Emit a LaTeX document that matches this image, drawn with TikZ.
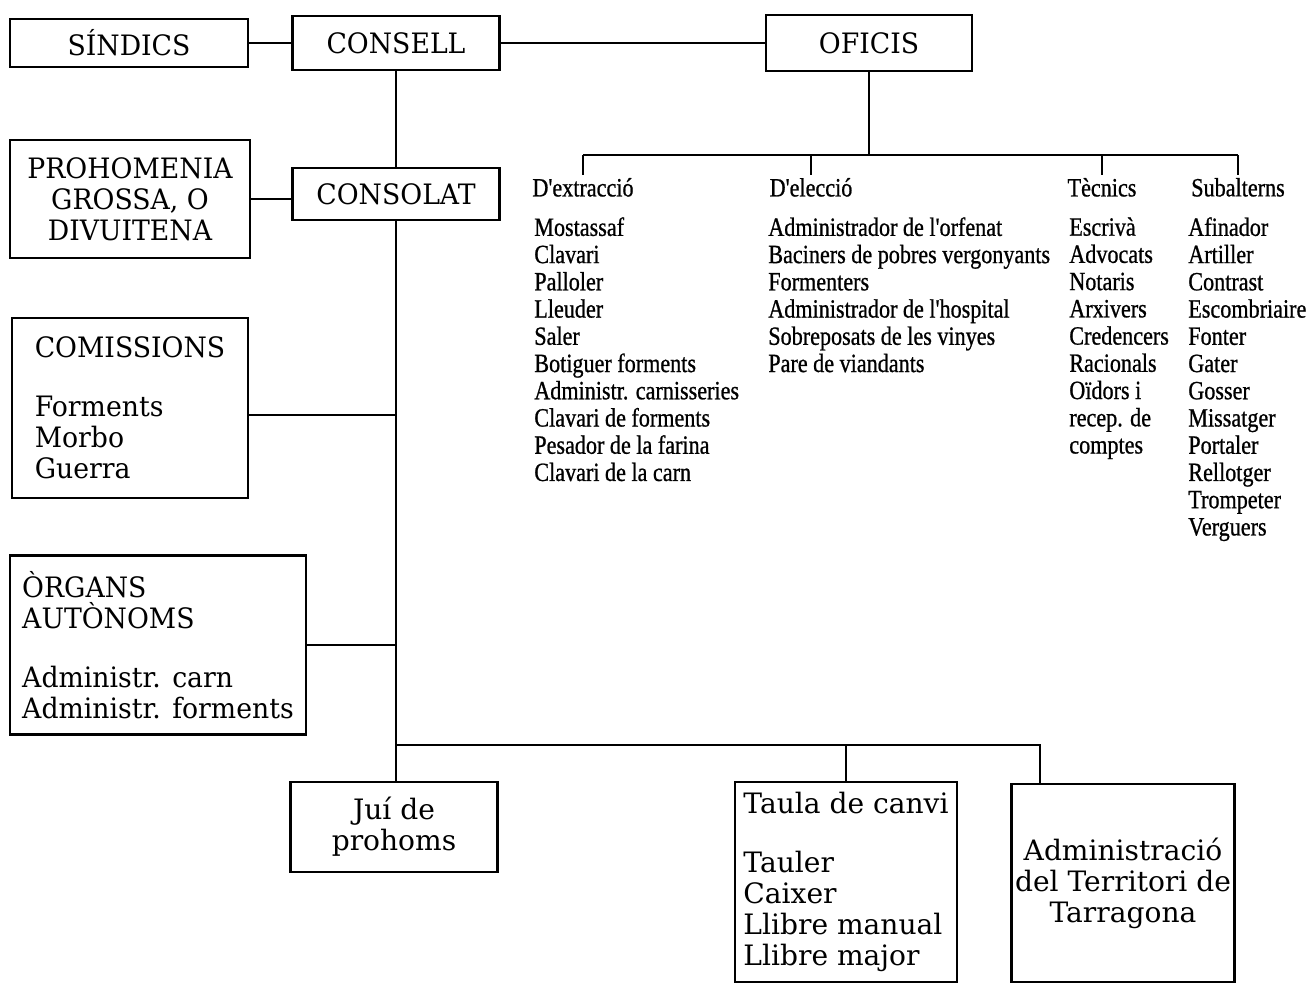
\documentclass[tikz,border=0pt]{standalone}
\usepackage{fontspec}
\usepackage{tikz}
\usetikzlibrary{shapes, arrows, positioning}
\newfontfamily\boxfont[FakeStretch=0.95]{DejaVu Serif}
\newfontfamily\bigboxfont{DejaVu Serif}
\newfontfamily\listfont[FakeStretch=0.84, FakeBold=0.8]{Liberation Serif}

\begin{document}
\begin{tikzpicture}[x=0.02cm, y=-0.02cm, line width=1.5pt,
    box/.style={rectangle, draw, line width=1.5pt, align=center, inner sep=2pt, font=\boxfont\fontsize{16}{17.6}\selectfont},
    bigbox/.style={box, font=\bigboxfont\fontsize{16}{17.6}\selectfont},
    head/.style={inner sep=1pt, anchor=north, font=\listfont\fontsize{15}{15.5}\selectfont},
    list/.style={inner sep=0pt, anchor=north west, align=left, font=\listfont\fontsize{15}{15.5}\selectfont}]
    \useasboundingbox (0,0) rectangle (1311,985);

    % boxes
    \node (sindics) [box, minimum width=4.76cm, minimum height=0.96cm] at (129,43) {SÍNDICS};
    \node (consell) [box, minimum width=4.14cm, minimum height=1.08cm] at (396,43) {CONSELL};
    \node (oficis) [box, minimum width=4.12cm, minimum height=1.12cm] at (869,43) {OFICIS};
    \node (prohom) [box, minimum width=4.8cm, minimum height=2.36cm] at (130,199) {PROHOMENIA\\GROSSA, O\\DIVUITENA};
    \node (consolat) [box, minimum width=4.14cm, minimum height=1.04cm] at (396,194) {CONSOLAT};
    \node (comiss) [box, align=left, minimum width=4.72cm, minimum height=3.6cm] at (130,408) {COMISSIONS\\[16pt]Forments\\Morbo\\Guerra};
    \node (organs) [box, align=left, minimum width=5.92cm, minimum height=3.58cm] at (158,645) {ÒRGANS\\AUTÒNOMS\\[16pt]Administr. carn\\Administr. forments};
    \node (jui) [bigbox, minimum width=4.14cm, minimum height=1.8cm] at (394,827) {Juí de\\prohoms};
    \node (taula) [bigbox, align=left, minimum width=4.44cm, minimum height=4cm] at (846,882) {Taula de canvi\\[16pt]Tauler\\Caixer\\Llibre manual\\Llibre major};
    \node (admin) [bigbox, minimum width=4.42cm, minimum height=3.96cm] at (1123,883) {Administració\\del Territori de\\Tarragona};

    % oficis columns
    \node (extr) [head] at (583,175) {D'extracció};
    \node (elec) [head] at (811,175) {D'elecció};
    \node (tecn) [head] at (1102,175) {Tècnics};
    \node (subal) [head] at (1238,175) {Subalterns};
    \node (llextr) [list] at (533,216) {Mostassaf\\Clavari\\Palloler\\Lleuder\\Saler\\Botiguer forments\\Administr. carnisseries\\Clavari de forments\\Pesador de la farina\\Clavari de la carn};
    \node (llelec) [list] at (767,216) {Administrador de l'orfenat\\Baciners de pobres vergonyants\\Formenters\\Administrador de l'hospital\\Sobreposats de les vinyes\\Pare de viandants};
    \node (lltecn) [list] at (1068,216) {Escrivà\\Advocats\\Notaris\\Arxivers\\Credencers\\Racionals\\Oïdors i\\recep. de\\comptes};
    \node (llsubal) [list] at (1187,216) {Afinador\\Artiller\\Contrast\\Escombriaire\\Fonter\\Gater\\Gosser\\Missatger\\Portaler\\Rellotger\\Trompeter\\Verguers};

    % connectors
    \coordinate (t1) at (396,415);
    \coordinate (t2) at (396,645);
    \coordinate (obar) at (869,155);
    \coordinate (bbar) at (396,745);
    \coordinate (bend) at (1040,745);

    \draw (sindics) -- (consell);
    \draw (consell) -- (oficis);
    \draw (consell) -- (consolat);
    \draw (prohom.east) -- (prohom.east -| consolat.west);
    \draw (consolat.south) -- (consolat.south |- jui.north);
    \draw (t1 -| comiss.east) -- (t1);
    \draw (t2 -| organs.east) -- (t2);

    \draw (oficis) -- (obar);
    \draw (obar -| extr) -- (obar -| subal);
    \draw (obar -| extr) -- (extr);
    \draw (obar -| elec) -- (elec);
    \draw (obar -| tecn) -- (tecn);
    \draw (obar -| subal) -- (subal);

    \draw (bbar) -- (bend) -- (bend |- admin.north);
    \draw (bbar -| taula) -- (taula);
\end{tikzpicture}
\end{document}
